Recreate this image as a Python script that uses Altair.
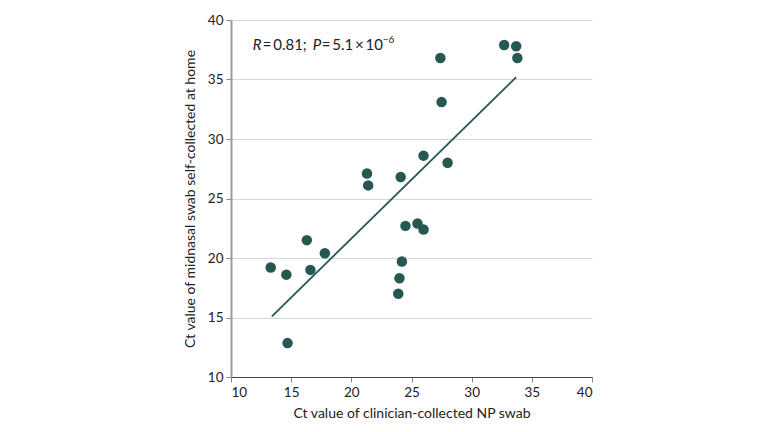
import altair as alt
import pandas as pd

np_ct = [13.3, 14.6, 14.7, 16.3, 16.6, 17.8, 21.3, 21.4, 23.9, 24.0, 24.2, 24.1, 24.5, 25.5, 26.0, 26.0, 27.4, 27.5, 28.0, 32.7, 33.7, 33.8]
mn_ct = [19.2, 18.6, 12.85, 21.5, 19.0, 20.4, 27.1, 26.1, 17.0, 18.3, 19.7, 26.8, 22.7, 22.9, 22.4, 28.6, 36.8, 33.1, 28.0, 37.9, 37.8, 36.8]

fit_x = [13.4, 33.7]
fit_y = [15.1, 35.2]

ann_x = [11.8]
ann_y = [37.5]

FONT = "Lato"
COL = "#265753"

pts = pd.DataFrame({"x": np_ct, "y": mn_ct})
fit = pd.DataFrame({"x": fit_x, "y": fit_y})
ann = pd.DataFrame({"x": ann_x, "y": ann_y})

xs = alt.Scale(domain=[10, 40], nice=False)
ys = alt.Scale(domain=[10, 40], nice=False)

xax = alt.Axis(title="Ct value of clinician-collected NP swab", values=[10, 15, 20, 25, 30, 35, 40],
               grid=False, domainColor="#444444", tickColor="#888888", tickSize=5,
               labelFontSize=13.5, titleFontSize=14, titleFontWeight="normal",
               labelFont=FONT, titleFont=FONT, labelColor="#222222", titleColor="#222222",
               titlePadding=8, labelPadding=3)
yax = alt.Axis(title="Ct value of midnasal swab self-collected at home", values=[10, 15, 20, 25, 30, 35, 40],
               grid=True, gridColor="#d6d6d6", domainColor="#9a9a9a", domainWidth=2,
               tickColor="#888888", tickSize=5,
               labelFontSize=13.5, titleFontSize=14, titleFontWeight="normal",
               labelFont=FONT, titleFont=FONT, labelColor="#222222", titleColor="#222222",
               titlePadding=10, labelPadding=3)

points = alt.Chart(pts).mark_circle(size=110, opacity=1, color=COL).encode(
    x=alt.X("x:Q", scale=xs, axis=xax),
    y=alt.Y("y:Q", scale=ys, axis=yax),
)

line = alt.Chart(fit).mark_line(color=COL, strokeWidth=1.8).encode(
    x=alt.X("x:Q", scale=xs),
    y=alt.Y("y:Q", scale=ys),
)

pieces = [
    ("R", "italic", 0, 15, 0),
    ("=\u20090.81;", "normal", 10, 15, 0),
    ("P", "italic", 60, 15, 0),
    ("=\u20095.1\u2009\u00d7\u200910", "normal", 69, 15, 0),
    ("\u2212" + "6", "normal", 130, 10, -7),
]
texts = []
for t, style, dx, fs, dy in pieces:
    texts.append(
        alt.Chart(ann).mark_text(text=t, fontStyle=style, font=FONT, fontSize=fs, align="left",
                                 baseline="alphabetic", dx=dx, dy=dy, color="#222222").encode(
            x=alt.X("x:Q", scale=xs), y=alt.Y("y:Q", scale=ys))
    )

chart = alt.layer(line, points, *texts).properties(
    width=361, height=357,
    autosize=alt.AutoSizeParams(type="none"),
    padding={"left": 223, "top": 12, "right": 20, "bottom": 50},
).configure_view(stroke=None)

chart.save("out.html", embed_options={"renderer": "svg", "actions": False})
